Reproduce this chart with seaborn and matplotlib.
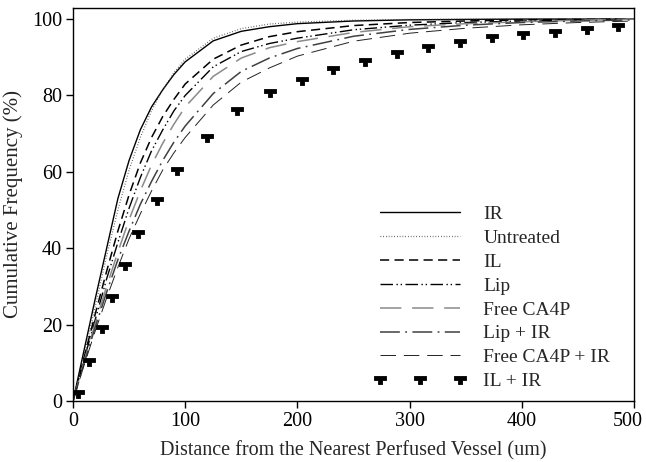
import numpy as np
import pandas as pd
import matplotlib
matplotlib.use("Agg")
import matplotlib.pyplot as plt
from matplotlib.path import Path
from matplotlib.transforms import ScaledTranslation
import seaborn as sns

# ---- data ----
x_grid = [0, 10, 20, 30, 40, 50, 60, 70, 80, 90, 100, 125, 150, 175, 200, 250, 300, 350, 400, 450, 500]
ir        = [0, 13.5, 27, 40, 53, 63, 71, 77, 81.5, 85.5, 88.8, 94.3, 96.8, 98, 98.8, 99.5, 99.8, 99.9, 100, 100, 100]
untreated = [0, 12, 25, 38, 50, 60.5, 69, 76, 81.5, 86, 89.5, 95, 97.5, 98.7, 99.2, 99.7, 99.9, 100, 100, 100, 100]
il        = [0, 11.5, 23, 34, 44.5, 54, 62.3, 69, 74.5, 79, 83, 89.5, 93.2, 95.4, 96.7, 98.3, 99.1, 99.5, 99.8, 99.9, 100]
lip       = [0, 11, 21.5, 32, 41.5, 50.5, 58.5, 65.5, 71, 76, 80, 87.5, 91.5, 93.6, 95, 97.2, 98.4, 99.1, 99.5, 99.8, 100]
free_ca4p = [0, 10.5, 20.5, 30, 39, 47.5, 55, 61.8, 67.5, 72.5, 77, 85, 89.8, 92.5, 94.1, 96.5, 98, 98.8, 99.3, 99.7, 100]
lip_ir    = [0, 10, 19.5, 28.5, 37, 44.5, 51.5, 57.5, 63, 67.8, 72, 80.5, 86.3, 89.8, 92.3, 95.5, 97.3, 98.4, 99.1, 99.5, 99.8]
free_ir   = [0, 9.5, 18.5, 27, 35, 42.5, 49, 55, 60.5, 65, 69, 77.5, 83.5, 87.2, 90.3, 94.2, 96.3, 97.6, 98.5, 99.1, 99.5]

il_ir_x = [4.7, 14, 25.5, 35, 46.3, 58.2, 74.6, 92.4, 119.2, 145.9, 175.6, 203.8, 232, 260.2,
           288.5, 316.7, 345, 373.2, 401.3, 429.6, 457.8, 486]
il_ir_y = [2.2, 10.5, 19, 27.2, 35.6, 43.9, 52.6, 60.5, 69.2, 76.2, 81, 84, 86.8, 89.1,
           91, 92.6, 94.1, 95.2, 96.1, 96.7, 97.4, 98.1]

x_ticks = [0, 100, 200, 300, 400, 500]
y_ticks = [0, 20, 40, 60, 80, 100]

sns.set_theme(style="ticks")
plt.rcParams["font.family"] = ["Liberation Serif", "DejaVu Serif"]

fig = plt.figure(figsize=(6.46, 4.62), dpi=100)
ax = fig.add_axes([73 / 646, 61 / 462, 561 / 646, 393 / 462])

series = [
    ("IR", ir, dict(color="black", linewidth=1.0, linestyle="-")),
    ("Untreated", untreated, dict(color="#444444", linewidth=0.9, linestyle=(0, (0.6, 1.6)))),
    ("IL", il, dict(color="black", linewidth=1.1, linestyle=(0, (6, 3.5)))),
    ("Lip", lip, dict(color="black", linewidth=1.0, linestyle=(0, (9, 2.5, 1, 2, 1, 2.5)))),
    ("Free CA4P", free_ca4p, dict(color="#8a8a8a", linewidth=1.1, linestyle=(0, (14, 7)))),
    ("Lip + IR", lip_ir, dict(color="#404040", linewidth=1.1, linestyle=(0, (13, 3.5, 1.2, 3.5)))),
    ("Free CA4P + IR", free_ir, dict(color="#222222", linewidth=0.7, linestyle=(0, (16, 8)))),
]

for name, vals, kw in series:
    df = pd.DataFrame({"x": x_grid, "y": vals})
    sns.lineplot(data=df, x="x", y="y", ax=ax, label=name, **kw)

# T-shaped marker for IL + IR
t_verts = [(-1, 0.45), (1, 0.45), (1, -0.1), (0.4, -0.1), (0.4, -0.8),
           (-0.4, -0.8), (-0.4, -0.1), (-1, -0.1), (-1, 0.45)]
t_codes = [Path.MOVETO] + [Path.LINETO] * 7 + [Path.CLOSEPOLY]
t_marker = Path(t_verts, t_codes)
df_ilir = pd.DataFrame({"x": il_ir_x, "y": il_ir_y})
sns.lineplot(data=df_ilir, x="x", y="y", ax=ax, label="IL + IR", linestyle="none",
             marker=t_marker, markersize=8.5, color="black", markeredgewidth=0.6,
             markeredgecolor="black")

ax.set_xlim(0, 500)
ax.set_ylim(0, 102.9)
ax.set_xticks(x_ticks)
ax.set_yticks(y_ticks)
ax.tick_params(axis="both", labelsize=14.5, direction="out", length=5, width=1, colors="black", pad=3)
for s in ax.spines.values():
    s.set_color("black")
    s.set_linewidth(1.0)

# keep the last x tick label inside the canvas, as in the reference
last = ax.get_xticklabels()[-1]
last.set_transform(last.get_transform() + ScaledTranslation(-6 / 100, 0, fig.dpi_scale_trans))

ax.set_xlabel("Distance from the Nearest Perfused Vessel (um)", fontsize=14.5, labelpad=7)
ax.set_ylabel("Cumulative Frequency (%)", fontsize=15, labelpad=6)

leg = ax.legend(loc="upper left", bbox_to_anchor=(0.537, 0.497), frameon=False, fontsize=14,
                handlelength=4.7, handletextpad=0.9, labelspacing=0.32, borderpad=0,
                borderaxespad=0, numpoints=3)

fig.savefig("out.png", dpi=100)
